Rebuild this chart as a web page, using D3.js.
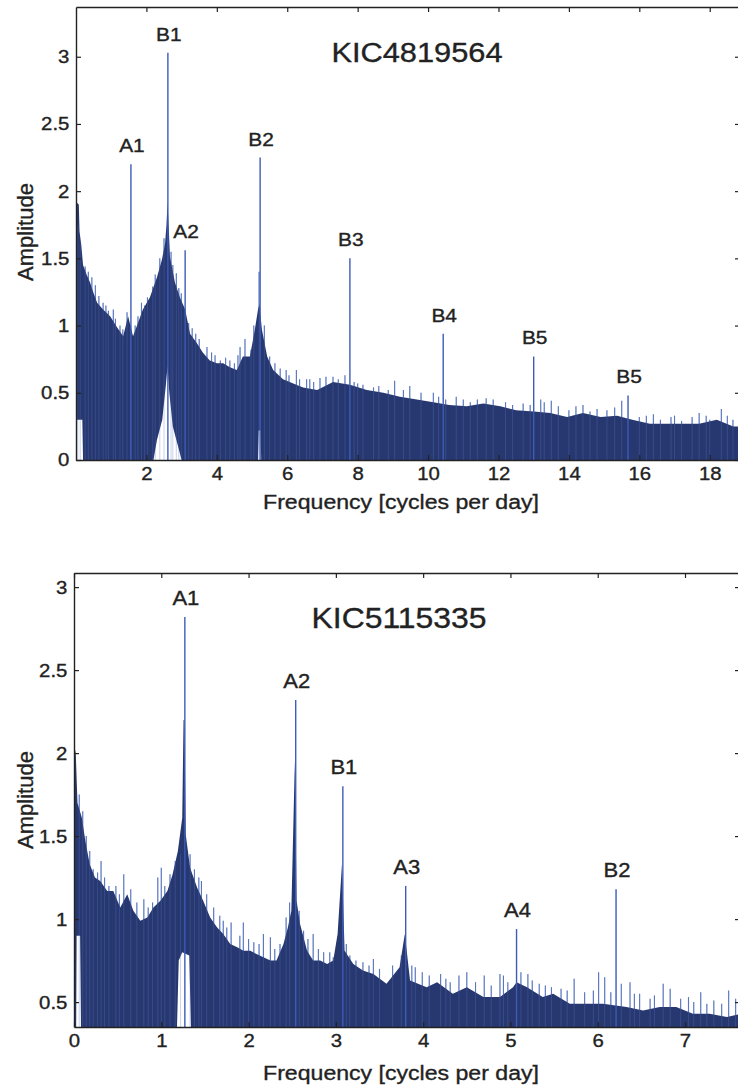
<!DOCTYPE html>
<html>
<head>
<meta charset="utf-8">
<script src="https://cdn.jsdelivr.net/npm/d3@7"></script>
<style>
body { margin: 0; background: #fff; }
svg text { font-family: "Liberation Sans", Arial, Helvetica, sans-serif; fill: #222; stroke: #222; stroke-width: 0.35px; }
</style>
</head>
<body>
<div id="chart"></div>
<script>
// ---- KIC4819564 (top) ----
// upper edge of the dense noise band [freq, amplitude]
const topEnvelope = [[0.00,1.92],[0.08,1.90],[0.10,1.70],[0.15,1.60],[0.20,1.45],[0.30,1.38],[0.40,1.32],[0.50,1.24],
  [0.60,1.17],[0.77,1.12],[0.97,1.07],[1.16,0.99],[1.34,0.92],[1.48,1.07],[1.62,0.92],[1.76,1.02],[1.90,1.12],
  [2.10,1.21],[2.30,1.36],[2.44,1.49],[2.53,1.61],[2.57,1.75],[2.60,1.92],[2.63,1.75],[2.67,1.51],[2.81,1.32],
  [2.95,1.21],[3.10,1.12],[3.24,0.94],[3.43,0.87],[3.60,0.80],[3.80,0.74],[4.00,0.72],[4.18,0.72],[4.37,0.69],
  [4.57,0.67],[4.74,0.77],[4.94,0.77],[5.08,0.97],[5.17,1.12],[5.21,1.16],[5.28,0.97],[5.43,0.77],[5.60,0.67],
  [5.88,0.60],[6.17,0.57],[6.45,0.54],[6.85,0.52],[7.30,0.58],[7.78,0.56],[8.26,0.52],[8.73,0.50],[9.20,0.47],
  [9.68,0.45],[10.15,0.43],[10.60,0.41],[11.10,0.40],[11.57,0.42],[12.05,0.40],[12.50,0.37],[13.00,0.36],
  [13.47,0.35],[13.95,0.32],[14.40,0.35],[14.90,0.32],[15.37,0.33],[15.80,0.30],[16.30,0.27],[16.80,0.27],
  [17.25,0.27],[17.70,0.27],[18.20,0.30],[18.67,0.25],[18.90,0.25]];
// white gaps under the band (lower edge of the noise)
const topGaps = [[0.00,0],[0.02,0],[0.03,0.30],[0.18,0.30],[0.20,0],[2.20,0],[2.30,0.15],[2.45,0.30],[2.55,0.55],
  [2.60,0.70],[2.65,0.50],[2.75,0.25],[2.90,0.10],[3.00,0],[5.17,0],[5.19,0.22],[5.24,0.22],[5.26,0],[18.90,0]];
// single noise spikes sticking out of the band
const topSpikes = [[0.05,1.75],[0.12,1.62],[0.26,1.44],[0.35,1.40],[0.45,1.36],[0.55,1.30],[0.65,1.22],[0.77,1.17],
  [0.85,1.15],[0.92,1.11],[1.06,1.12],[1.12,1.05],[1.25,1.00],[1.33,0.97],[1.45,1.10],[1.55,1.00],[1.68,1.00],
  [1.76,1.07],[1.86,1.17],[1.95,1.15],[2.03,1.21],[2.18,1.29],[2.25,1.38],[2.38,1.50],[2.50,1.65],[2.70,1.55],
  [2.75,1.45],[2.85,1.39],[2.92,1.28],[2.99,1.24],[3.20,1.02],[3.30,0.98],[3.40,0.94],[3.50,0.90],[3.72,0.84],
  [3.85,0.80],[3.95,0.78],[4.10,0.74],[4.25,0.76],[4.37,0.74],[4.50,0.72],[4.60,0.78],[4.66,0.84],[4.80,0.90],
  [4.97,0.82],[5.05,1.00],[5.20,1.40],[5.35,1.00],[5.50,0.77],[5.65,0.72],[5.80,0.68],[5.97,0.67],[6.05,0.63],
  [6.26,0.67],[6.35,0.60],[6.55,0.60],[6.64,0.60],[6.75,0.58],[6.93,0.61],[7.10,0.62],[7.30,0.62],[7.45,0.60],
  [7.64,0.63],[7.90,0.58],[8.00,0.57],[8.15,0.56],[8.45,0.54],[8.60,0.55],[8.87,0.52],[9.05,0.59],[9.30,0.52],
  [9.48,0.55],[9.80,0.50],[10.15,0.50],[10.30,0.47],[10.50,0.45],[10.80,0.47],[11.00,0.45],[11.20,0.43],
  [11.40,0.45],[11.65,0.46],[11.85,0.45],[12.20,0.43],[12.40,0.41],[12.70,0.42],[12.90,0.41],[13.20,0.45],
  [13.30,0.43],[13.50,0.44],[13.70,0.40],[14.00,0.37],[14.20,0.40],[14.40,0.41],[14.60,0.36],[14.80,0.38],
  [15.08,0.37],[15.30,0.39],[15.50,0.44],[16.00,0.32],[16.20,0.33],[16.40,0.34],[16.60,0.30],[16.90,0.32],
  [17.00,0.33],[17.20,0.29],[17.50,0.32],[17.70,0.35],[17.90,0.33],[18.00,0.30],[18.33,0.38],[18.50,0.33],
  [18.66,0.30]];
const topPeakLabels = ["A1","B1","A2","B2","B3","B4","B5","B5"];
const topPeakFreq = [1.56,2.61,3.10,5.23,7.78,10.43,13.00,15.68];
const topPeakAmp = [2.20,3.03,1.56,2.25,1.50,0.94,0.77,0.48];
const topXTicks = [2,4,6,8,10,12,14,16,18];
const topYTicks = [0,0.5,1,1.5,2,2.5,3];

// ---- KIC5115335 (bottom) ----
const botEnvelope = [[0.00,2.05],[0.02,2.00],[0.04,1.70],[0.09,1.61],[0.13,1.47],[0.18,1.33],[0.24,1.25],[0.30,1.23],
  [0.38,1.17],[0.45,1.17],[0.53,1.07],[0.61,1.15],[0.68,1.05],[0.76,0.99],[0.84,1.01],[0.91,1.07],[0.99,1.11],
  [1.07,1.17],[1.13,1.27],[1.19,1.41],[1.24,1.61],[1.255,2.20],[1.265,2.20],[1.28,1.51],[1.33,1.31],[1.41,1.19],
  [1.48,1.11],[1.56,1.01],[1.64,0.95],[1.71,0.91],[1.79,0.85],[1.87,0.83],[1.94,0.81],[2.02,0.81],[2.09,0.79],
  [2.17,0.77],[2.25,0.75],[2.32,0.75],[2.40,0.85],[2.45,0.95],[2.49,1.05],[2.53,1.95],[2.55,1.11],[2.59,0.97],
  [2.67,0.81],[2.74,0.75],[2.82,0.75],[2.90,0.73],[2.97,0.75],[3.02,0.91],[3.07,1.33],[3.10,0.81],[3.20,0.73],
  [3.31,0.69],[3.43,0.67],[3.58,0.61],[3.73,0.71],[3.79,0.91],[3.85,0.63],[4.04,0.59],[4.16,0.62],[4.34,0.55],
  [4.50,0.59],[4.69,0.53],[4.88,0.53],[5.03,0.59],[5.07,0.62],[5.19,0.59],[5.37,0.53],[5.49,0.55],[5.68,0.49],
  [5.87,0.49],[6.06,0.49],[6.33,0.47],[6.52,0.45],[6.71,0.47],[6.90,0.47],[7.09,0.43],[7.28,0.43],[7.48,0.41],
  [7.65,0.43]];
const botGaps = [[0.00,0.35],[0.025,0.35],[0.03,0.90],[0.07,0.90],[0.08,0.35],[1.18,0.35],[1.20,0.75],[1.24,0.80],
  [1.32,0.78],[1.34,0.35],[7.65,0.35]];
const botSpikes = [[0.06,1.75],[0.10,1.65],[0.14,1.50],[0.18,1.41],[0.22,1.30],[0.27,1.28],[0.31,1.35],[0.35,1.25],
  [0.40,1.20],[0.48,1.20],[0.52,1.15],[0.57,1.27],[0.65,1.18],[0.72,1.10],[0.80,1.12],[0.85,1.07],[0.90,1.10],
  [0.96,1.25],[1.00,1.31],[1.04,1.20],[1.10,1.27],[1.16,1.35],[1.22,1.39],[1.33,1.39],[1.38,1.30],[1.43,1.25],
  [1.46,1.23],[1.52,1.15],[1.60,1.07],[1.67,1.02],[1.71,0.99],[1.75,0.95],[1.80,0.98],[1.90,0.90],[1.94,0.98],
  [2.00,0.88],[2.06,0.86],[2.12,0.85],[2.17,0.91],[2.25,0.89],[2.30,0.82],[2.36,0.85],[2.43,1.01],[2.47,1.10],
  [2.58,1.05],[2.63,0.93],[2.68,0.88],[2.74,0.91],[2.80,0.82],[2.86,0.80],[2.93,0.80],[2.97,0.77],[3.12,0.85],
  [3.16,0.78],[3.23,0.75],[3.31,0.74],[3.38,0.72],[3.43,0.76],[3.50,0.70],[3.65,0.72],[3.75,0.78],[3.87,0.72],
  [3.91,0.71],[3.99,0.68],[4.07,0.66],[4.20,0.67],[4.26,0.64],[4.31,0.62],[4.41,0.66],[4.50,0.68],[4.60,0.62],
  [4.70,0.66],[4.78,0.60],[4.88,0.67],[4.92,0.66],[4.97,0.62],[5.12,0.68],[5.20,0.67],[5.25,0.63],[5.33,0.61],
  [5.40,0.60],[5.47,0.59],[5.58,0.58],[5.65,0.57],[5.73,0.64],[5.85,0.56],[5.95,0.57],[6.01,0.68],[6.08,0.65],
  [6.15,0.56],[6.27,0.61],[6.37,0.62],[6.42,0.55],[6.48,0.55],[6.60,0.52],[6.65,0.54],[6.75,0.61],[6.83,0.58],
  [6.95,0.52],[7.04,0.53],[7.10,0.50],[7.18,0.56],[7.25,0.49],[7.33,0.51],[7.42,0.49],[7.50,0.57],[7.58,0.52]];
const botPeakLabels = ["A1","A2","B1","A3","A4","B2"];
const botPeakFreq = [1.27,2.54,3.08,3.80,5.07,6.21];
const botPeakAmp = [2.82,2.32,1.80,1.20,0.94,1.18];
const botXTicks = [0,1,2,3,4,5,6,7];
const botYTicks = [0.5,1,1.5,2,2.5,3];

var W = 738, H = 1089, RIGHT = 740;
var NAVY = "#27376f", LIGHT = "#5a76c0", PEAK = "#3d5cb6", INK = "#222";
var SX = 1.1; // the scanned text is a bit wider than the font

var panels = [
  { title: "KIC4819564", env: topEnvelope, gaps: topGaps, spikes: topSpikes,
    labels: topPeakLabels, freq: topPeakFreq, amp: topPeakAmp, xTicks: topXTicks, yTicks: topYTicks,
    xMax: 18.86, yMin: 0, yMax: 3.37, left: 76, top: 7, bottom: 460,
    titleX: 417, titleY: 62, titleSize: 28, labelSize: 19, xTitleY: 509, yTitleY: 232 },
  { title: "KIC5115335", env: botEnvelope, gaps: botGaps, spikes: botSpikes,
    labels: botPeakLabels, freq: botPeakFreq, amp: botPeakAmp, xTicks: botXTicks, yTicks: botYTicks,
    xMax: 7.63, yMin: 0.35, yMax: 3.085, left: 74, top: 573, bottom: 1027,
    titleX: 399, titleY: 628, titleSize: 29, labelSize: 20, xTitleY: 1080, yTitleY: 800 }
];

var svg = d3.select("#chart").append("svg")
  .attr("width", W).attr("height", H);

// text stretched a little horizontally, like the scan
function label(g, x, y, str, size, anchor) {
  return g.append("text")
    .attr("transform", "translate(" + x + "," + y + ") scale(" + SX + ",1)")
    .attr("text-anchor", anchor || "middle")
    .attr("font-size", size)
    .text(str);
}

function spikeLines(sel, data, x, y, y0, opacity) {
  sel.selectAll(null).data(data).enter().append("line")
    .attr("x1", function (d) { return x(d[0]); })
    .attr("x2", function (d) { return x(d[0]); })
    .attr("y1", y0)
    .attr("y2", function (d) { return y(d[1]); })
    .attr("stroke", LIGHT).attr("stroke-width", 1.1)
    .attr("stroke-opacity", opacity);
}

panels.forEach(function (p, i) {
  var x = d3.scaleLinear().domain([0, p.xMax]).range([p.left, RIGHT]);
  var y = d3.scaleLinear().domain([p.yMin, p.yMax]).range([p.bottom, p.top]);
  var g = svg.append("g");

  svg.append("clipPath").attr("id", "clip" + i)
    .append("rect")
    .attr("x", p.left).attr("y", p.top)
    .attr("width", RIGHT - p.left).attr("height", p.bottom - p.top);
  var plot = g.append("g").attr("clip-path", "url(#clip" + i + ")");

  // noise spikes: solid tips behind the band, faint streaks through it
  spikeLines(plot, p.spikes, x, y, y(p.yMin), 1);

  var area = d3.area()
    .x(function (d) { return x(d[0]); })
    .y0(y(p.yMin))
    .y1(function (d) { return y(d[1]); });

  plot.append("path").datum(p.env).attr("d", area).attr("fill", NAVY);
  plot.append("path").datum(p.gaps).attr("d", area).attr("fill", "#fff");
  spikeLines(plot, p.spikes, x, y, y(p.yMin), 0.3);

  // identified frequencies
  var idx = d3.range(p.labels.length);
  plot.selectAll(".peak").data(idx).enter().append("line")
    .attr("class", "peak")
    .attr("x1", function (k) { return x(p.freq[k]); })
    .attr("x2", function (k) { return x(p.freq[k]); })
    .attr("y1", y(p.yMin))
    .attr("y2", function (k) { return y(p.amp[k]); })
    .attr("stroke", PEAK).attr("stroke-width", 1.4);

  idx.forEach(function (k) {
    label(g, x(p.freq[k]) + 1, y(p.amp[k]) - 12, p.labels[k], p.labelSize);
  });

  // axes, MATLAB style: inward ticks on all four sides
  var fmt = d3.format("");
  var ax = [
    g.append("g").attr("transform", "translate(0," + p.bottom + ")")
      .call(d3.axisBottom(x).tickValues(p.xTicks).tickSizeInner(-5).tickSizeOuter(0).tickPadding(7).tickFormat(fmt)),
    g.append("g").attr("transform", "translate(" + p.left + ",0)")
      .call(d3.axisLeft(y).tickValues(p.yTicks).tickSizeInner(-5).tickSizeOuter(0).tickPadding(6).tickFormat(fmt)),
    g.append("g").attr("transform", "translate(0," + p.top + ")")
      .call(d3.axisTop(x).tickValues(p.xTicks).tickSizeInner(-5).tickSizeOuter(0).tickFormat(function () { return ""; })),
    g.append("g").attr("transform", "translate(" + RIGHT + ",0)")
      .call(d3.axisRight(y).tickValues(p.yTicks).tickSizeInner(-5).tickSizeOuter(0).tickFormat(function () { return ""; }))
  ];
  ax.forEach(function (a) {
    a.attr("color", INK).attr("font-size", 18.5).attr("font-family", null);
    a.select(".domain").attr("stroke-width", 1.4);
    a.selectAll(".tick line").attr("stroke-width", 1.2);
    a.selectAll(".tick text").attr("transform", "scale(" + SX + ",1)");
  });

  label(g, p.titleX, p.titleY, p.title, p.titleSize);
  label(g, 401, p.xTitleY, "Frequency [cycles per day]", 21);
  g.append("text")
    .attr("transform", "translate(33," + p.yTitleY + ") rotate(-90)")
    .attr("text-anchor", "middle")
    .attr("font-size", 22)
    .text("Amplitude");
});
</script>
</body>
</html>
